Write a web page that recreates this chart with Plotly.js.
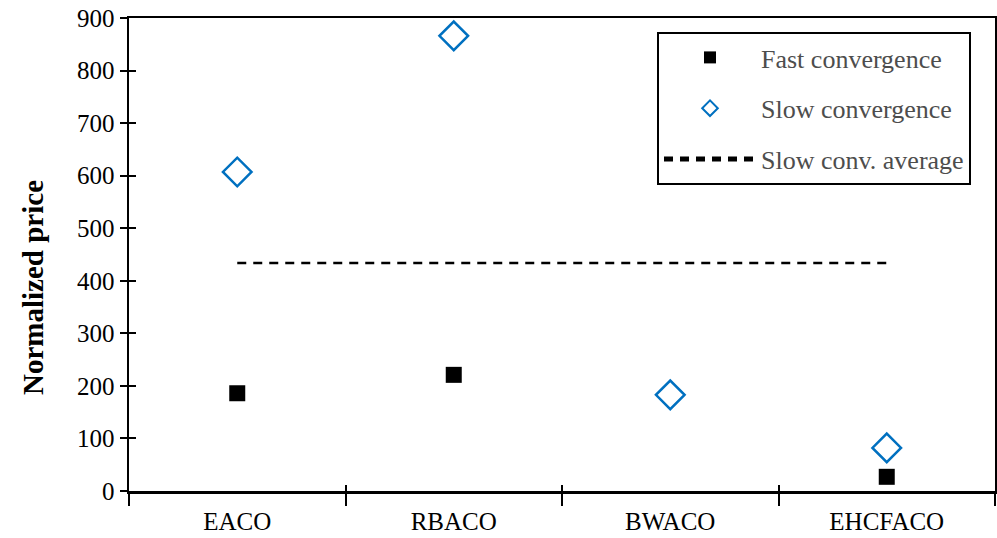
<!DOCTYPE html>
<html>
<head>
<meta charset="utf-8">
<script src="https://cdn.plot.ly/plotly-3.0.1.min.js"></script>
<style>
  html, body { margin: 0; padding: 0; background: #fff; }
  #chart { width: 997px; height: 538px; }
</style>
</head>
<body>
<div id="chart"></div>
<script>
// Algorithms compared
const algorithms = ['EACO', 'RBACO', 'BWACO', 'EHCFACO'];
// Normalized price per algorithm (null = no run in that group)
const fastConvergence = [186, 221, null, 27];
const slowConvergence = [607, 866, 183, 82];
// Mean of the slow-convergence prices, drawn across the groups
const slowAverage = 434;

const FONT = 'Liberation Serif, Times New Roman, serif';

const traces = [
  {
    x: algorithms, y: fastConvergence,
    type: 'scatter', mode: 'markers',
    name: 'Fast convergence', legendgroup: 'a',
    marker: { symbol: 'square', size: 16, color: '#000000' }
  },
  {
    x: algorithms, y: slowConvergence,
    type: 'scatter', mode: 'markers',
    name: 'Slow convergence', legendgroup: 'b',
    marker: { symbol: 'diamond-open', size: 22, color: '#0070C0', line: { width: 2.5, color: '#0070C0' } }
  },
  {
    x: [algorithms[0], algorithms[algorithms.length - 1]],
    y: [slowAverage, slowAverage],
    type: 'scatter', mode: 'lines',
    name: 'Slow conv. average', legendgroup: 'c',
    line: { color: '#000000', width: 2.5, dash: '9px,7px' }
  }
];

const layout = {
  width: 997, height: 538,
  margin: { l: 129, r: 2, t: 18, b: 47 },
  paper_bgcolor: '#ffffff', plot_bgcolor: '#ffffff',
  font: { family: FONT, color: '#000000', size: 25 },
  showlegend: true,
  legend: {
    x: (657 - 129) / 866, y: (491 - 32) / 473, xanchor: 'left', yanchor: 'top',
    bordercolor: '#000000', borderwidth: 2, bgcolor: '#ffffff',
    font: { family: FONT, size: 26, color: '#4d4d4d' },
    itemwidth: 92, itemsizing: 'constant', tracegroupgap: 14, traceorder: 'grouped'
  },
  xaxis: {
    type: 'category', categoryarray: algorithms, categoryorder: 'array',
    range: [-0.5, 3.5],
    showline: true, linecolor: '#000000', linewidth: 2.5, mirror: true,
    showgrid: false, zeroline: false,
    ticks: 'outside', tickson: 'boundaries', ticklen: 12, tickwidth: 2, tickcolor: '#000000',
    ticklabelstandoff: 6,
    tickfont: { family: FONT, size: 25, color: '#000000' }
  },
  yaxis: {
    range: [0, 900], dtick: 100, tick0: 0,
    showline: true, linecolor: '#000000', linewidth: 2.5, mirror: true,
    showgrid: false, zeroline: false,
    ticks: 'outside', ticklen: 7, tickwidth: 2, tickcolor: '#000000',
    tickfont: { family: FONT, size: 25, color: '#000000' }
  },
  // Overlay axes supply the inner half of the crossing tick marks
  xaxis2: {
    overlaying: 'x', anchor: 'y', side: 'bottom',
    type: 'category', categoryarray: algorithms, categoryorder: 'array',
    range: [-0.5, 3.5],
    showline: false, showgrid: false, zeroline: false, showticklabels: false,
    ticks: 'inside', tickson: 'boundaries', ticklen: 6, tickwidth: 2, tickcolor: '#000000'
  },
  yaxis2: {
    overlaying: 'y', anchor: 'x', side: 'left',
    range: [0, 900], dtick: 100, tick0: 0,
    showline: false, showgrid: false, zeroline: false, showticklabels: false,
    ticks: 'inside', ticklen: 7, tickwidth: 2, tickcolor: '#000000'
  },
  // Y-axis title, set a little below the vertical middle
  annotations: [{
    text: '<b>Normalized price</b>',
    xref: 'paper', yref: 'paper', x: 0, y: (491 - 288) / 473,
    xanchor: 'center', yanchor: 'middle', xshift: -96,
    textangle: -90, showarrow: false,
    font: { family: FONT, size: 29, color: '#000000' }
  }]
};

// Invisible companion trace so the overlay axes are laid out
traces.push({
  x: algorithms, y: [null, null, null, null], xaxis: 'x2', yaxis: 'y2',
  type: 'scatter', mode: 'markers', showlegend: false, hoverinfo: 'skip'
});

Plotly.newPlot('chart', traces, layout, { displayModeBar: false, staticPlot: true });
</script>
</body>
</html>
